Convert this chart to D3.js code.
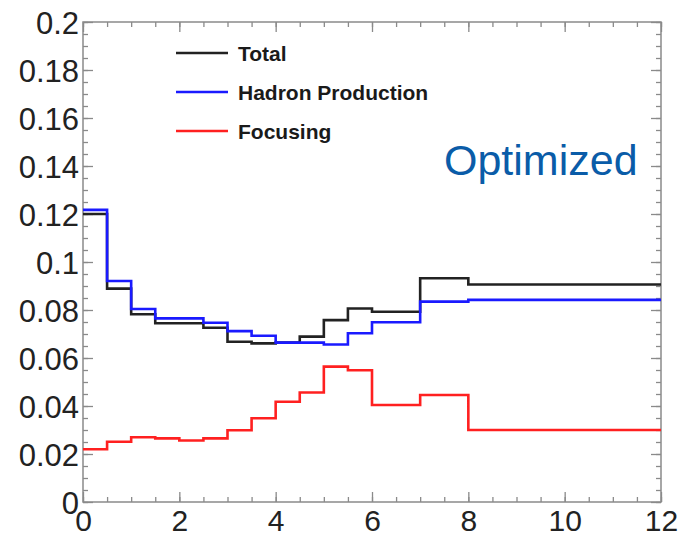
<!DOCTYPE html>
<html>
<head>
<meta charset="utf-8">
<script src="https://cdn.jsdelivr.net/npm/d3@7"></script>
<style>
  html, body { margin: 0; padding: 0; background: #fff; }
  svg { display: block; font-family: "Liberation Sans", Arial, Helvetica, sans-serif; }
</style>
</head>
<body>
<svg id="chart" width="681" height="535"></svg>
<script>
// Histogram bin edges (x) and per-bin uncertainty contributions
const binEdges = [0, 0.5, 1, 1.5, 2, 2.5, 3, 3.5, 4, 4.5, 5, 5.5, 6, 7, 8, 12];
const totalValues    = [0.1200, 0.0889, 0.0782, 0.0745, 0.0745, 0.0726, 0.0668, 0.0661, 0.0664, 0.0689, 0.0758, 0.0806, 0.0793, 0.0932, 0.0906];
const hadronValues   = [0.1217, 0.0921, 0.0804, 0.0765, 0.0765, 0.0747, 0.0712, 0.0693, 0.0664, 0.0664, 0.0656, 0.0703, 0.0749, 0.0835, 0.0842];
const focusingValues = [0.0220, 0.0251, 0.0270, 0.0265, 0.0256, 0.0265, 0.0299, 0.0349, 0.0418, 0.0456, 0.0564, 0.0549, 0.0404, 0.0446, 0.0300];

const seriesNames  = ["Total", "Hadron Production", "Focusing"];
const seriesColors = ["#222222", "#1a1aff", "#ff2020"];

const xTickLabels = [0, 2, 4, 6, 8, 10, 12];
const yTickLabels = [0, 0.02, 0.04, 0.06, 0.08, 0.1, 0.12, 0.14, 0.16, 0.18, 0.2];
const annotation = "Optimized";

const svg = d3.select("#chart");
const plot = { left: 83, right: 661, top: 22, bottom: 502 };

const x = d3.scaleLinear().domain([0, 12]).range([plot.left, plot.right]);
const y = d3.scaleLinear().domain([0, 0.2]).range([plot.bottom, plot.top]);

const frameColor = "#8a8a8a";
const majorLen = 10, minorLen = 5;
const xMinor = d3.range(0, 12.001, 0.5);
const yMinor = d3.range(0, 0.2001, 0.005);

function styleAxis(g) {
  g.select(".domain").remove();
  g.selectAll(".tick line").attr("stroke", frameColor).attr("stroke-width", 1.3);
}

// Bottom axis (labelled) and inward ticks
svg.append("g").attr("transform", `translate(0,${plot.bottom})`)
  .call(d3.axisBottom(x).tickValues(xMinor).tickSize(-minorLen).tickFormat(""))
  .call(styleAxis);
const xAxis = svg.append("g").attr("transform", `translate(0,${plot.bottom})`)
  .call(d3.axisBottom(x).tickValues(xTickLabels).tickSize(-majorLen).tickPadding(8).tickFormat(d3.format("d")))
  .call(styleAxis);
xAxis.selectAll("text")
  .attr("font-size", 30).attr("fill", "#222").attr("y", 29).attr("dy", 0);

// Top axis, ticks only
svg.append("g").attr("transform", `translate(0,${plot.top})`)
  .call(d3.axisTop(x).tickValues(xMinor).tickSize(-minorLen).tickFormat(""))
  .call(styleAxis);
svg.append("g").attr("transform", `translate(0,${plot.top})`)
  .call(d3.axisTop(x).tickValues(xTickLabels).tickSize(-majorLen).tickFormat(""))
  .call(styleAxis);

// Left axis (labelled)
svg.append("g").attr("transform", `translate(${plot.left},0)`)
  .call(d3.axisLeft(y).tickValues(yMinor).tickSize(-minorLen).tickFormat(""))
  .call(styleAxis);
const yAxis = svg.append("g").attr("transform", `translate(${plot.left},0)`)
  .call(d3.axisLeft(y).tickValues(yTickLabels).tickSize(-majorLen).tickFormat(d => d3.format("")(+d.toFixed(2))))
  .call(styleAxis);
yAxis.selectAll("text")
  .attr("font-size", 31).attr("fill", "#222").attr("x", -4).attr("dy", "0.36em");

// Right axis, ticks only
svg.append("g").attr("transform", `translate(${plot.right},0)`)
  .call(d3.axisRight(y).tickValues(yMinor).tickSize(-minorLen).tickFormat(""))
  .call(styleAxis);
svg.append("g").attr("transform", `translate(${plot.right},0)`)
  .call(d3.axisRight(y).tickValues(yTickLabels).tickSize(-majorLen).tickFormat(""))
  .call(styleAxis);

// Frame
svg.append("rect")
  .attr("x", plot.left).attr("y", plot.top)
  .attr("width", plot.right - plot.left).attr("height", plot.bottom - plot.top)
  .attr("fill", "none").attr("stroke", frameColor).attr("stroke-width", 1.5);

// Step-histogram outlines
const stepLine = d3.line().x(d => x(d[0])).y(d => y(d[1])).curve(d3.curveStepAfter);
function histPoints(values) {
  const pts = values.map((v, i) => [binEdges[i], v]);
  pts.push([binEdges[binEdges.length - 1], values[values.length - 1]]);
  return pts;
}
[totalValues, hadronValues, focusingValues].forEach((vals, i) => {
  svg.append("path")
    .attr("d", stepLine(histPoints(vals)))
    .attr("fill", "none")
    .attr("stroke", seriesColors[i])
    .attr("stroke-width", 2.6)
    .attr("stroke-linejoin", "miter");
});

// Legend
const legendX0 = 176, legendX1 = 228, legendY0 = 53, legendDy = 39;
seriesNames.forEach((name, i) => {
  const ly = legendY0 + i * legendDy;
  svg.append("line")
    .attr("x1", legendX0).attr("x2", legendX1).attr("y1", ly).attr("y2", ly)
    .attr("stroke", seriesColors[i]).attr("stroke-width", 2.6);
  svg.append("text")
    .attr("x", 238).attr("y", ly).attr("dy", "0.36em")
    .attr("font-size", 21).attr("font-weight", "bold").attr("fill", "#1a1a1a")
    .text(name);
});

// Annotation
svg.append("text")
  .attr("x", 444).attr("y", 175)
  .attr("font-size", 43).attr("fill", "#0a5ca8")
  .text(annotation);
</script>
</body>
</html>
